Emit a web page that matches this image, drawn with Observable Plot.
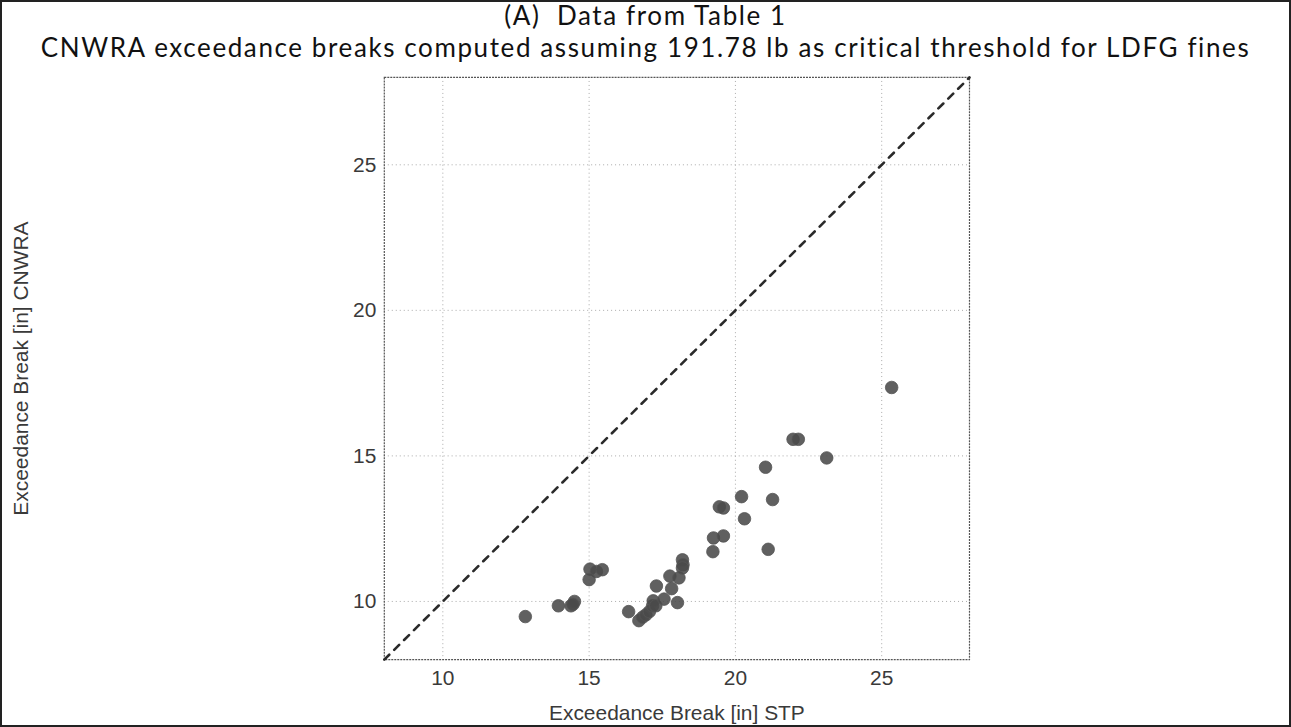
<!DOCTYPE html>
<html>
<head>
<meta charset="utf-8">
<script src="https://cdn.jsdelivr.net/npm/d3@7"></script>
<script src="https://cdn.jsdelivr.net/npm/@observablehq/plot@0.6"></script>
<style>
  html, body { margin: 0; padding: 0; background: #fff; }
  #wrap { position: relative; width: 1291px; height: 727px; box-sizing: border-box; border: 2px solid #222; overflow: hidden; background: #fff; }
  #title { position: absolute; left: 0; top: 0; width: 100%; text-align: center; font-family: Lato, "Open Sans", sans-serif; color: #111; letter-spacing: 1.6px; }
  #t1 { position: absolute; left: 0; top: 0px; width: 100%; font-size: 26px; line-height: 26px; }
  #t2 { position: absolute; left: 0; top: 31.5px; width: 100%; font-size: 26px; line-height: 26px; }
  #chart { position: absolute; left: -2px; top: 66px; }
  #chart svg text { font-family: "Liberation Sans", Arial, sans-serif; }
</style>
</head>
<body>
<div id="wrap">
  <div id="title">
    <div id="t1">(A)&nbsp; Data from Table 1</div>
    <div id="t2">CNWRA exceedance breaks computed assuming 191.78 lb as critical threshold for LDFG fines</div>
  </div>
  <div id="chart"></div>
</div>
<script>
// STP exceedance break [in]
const stp = [12.82, 13.95, 14.38, 14.50, 14.45, 15.03, 15.25, 15.45, 15.00,
  16.35, 16.70, 16.83, 16.94, 17.06, 17.17, 17.19, 17.28, 17.30, 17.56, 17.82,
  17.76, 18.02, 18.07, 18.19, 18.21, 18.19,
  19.23, 19.25, 19.59, 19.45, 19.59, 20.21, 20.31, 21.03, 21.12, 21.27,
  21.97, 22.15, 23.12, 25.34];
// CNWRA exceedance break [in]
const cnwra = [9.48, 9.85, 9.85, 10.00, 9.90, 11.11, 11.03, 11.09, 10.75,
  9.65, 9.34, 9.46, 9.54, 9.65, 9.85, 10.02, 9.85, 10.53, 10.08, 10.44,
  10.87, 9.96, 10.81, 11.43, 11.26, 11.15,
  11.71, 12.18, 12.25, 13.25, 13.21, 13.60, 12.84, 14.61, 11.79, 13.50,
  15.57, 15.57, 14.93, 17.35];
const tickValues = [10, 15, 20, 25];
const axisDomain = [8, 28];
const identityLine = [8, 28];

const points = stp.map((x, i) => ({x, y: cnwra[i]}));
const diag = identityLine.map(v => ({x: v, y: v}));

const chart = Plot.plot({
  width: 1293,
  height: 659,
  marginLeft: 385,
  marginRight: 321,
  marginTop: 9,
  marginBottom: 66,
  style: {fontFamily: "'Liberation Sans', Arial, sans-serif", fontSize: "21px", color: "#3a3a3a", background: "transparent"},
  x: {domain: axisDomain},
  y: {domain: axisDomain},
  marks: [
    Plot.gridX(tickValues, {stroke: "#aaa", strokeOpacity: 1, strokeDasharray: "1,3", strokeWidth: 1}),
    Plot.gridY(tickValues, {stroke: "#aaa", strokeOpacity: 1, strokeDasharray: "1,3", strokeWidth: 1}),
    Plot.frame({stroke: "#555", strokeDasharray: "2,1", strokeWidth: 1.2}),
    Plot.line(diag, {x: "x", y: "y", stroke: "#2a2a2a", strokeWidth: 2.6, strokeDasharray: "7,7"}),
    Plot.dot(points, {x: "x", y: "y", r: 6.3, fill: "#4a4a4a", fillOpacity: 0.88, stroke: "#555", strokeWidth: 0.8}),
    Plot.axisX(tickValues, {tickSize: 0, tickPadding: 11, label: "Exceedance Break [in] STP", labelAnchor: "center", labelOffset: 61, labelArrow: "none"}),
    Plot.axisY(tickValues, {tickSize: 0, tickPadding: 8, label: "Exceedance Break [in] CNWRA", labelAnchor: "center", labelOffset: 372, labelArrow: "none"})
  ]
});
document.getElementById("chart").appendChild(chart);
</script>
</body>
</html>
